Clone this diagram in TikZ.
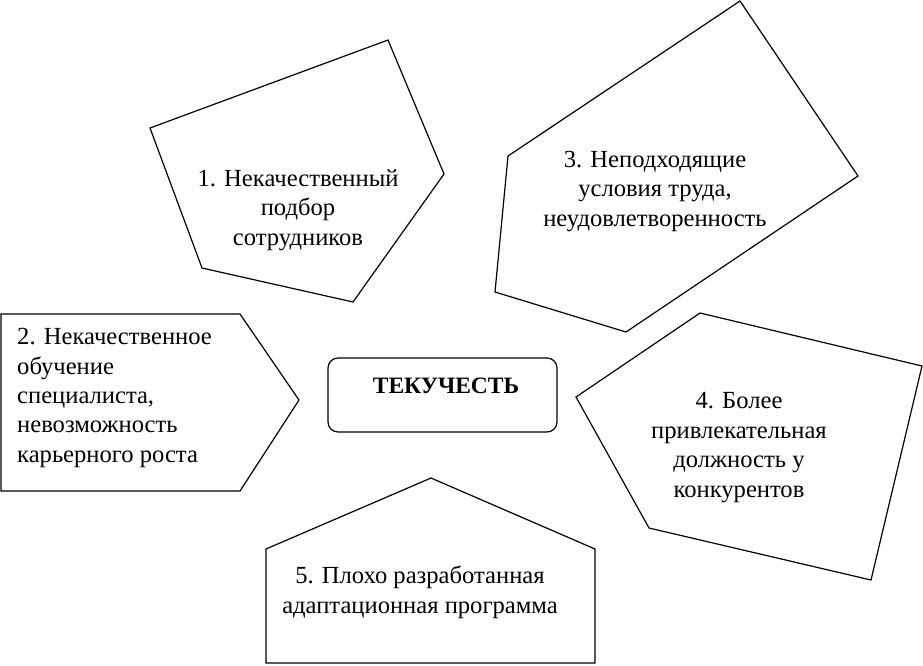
\documentclass[tikz,border=0pt]{standalone}
\usepackage{fontspec}
\setmainfont{Liberation Serif}
\begin{document}
\begin{tikzpicture}[x=1pt,y=-1pt,
  shape line/.style={draw=black, line width=1.2pt, line join=miter},
  lbl/.style={font=\fontsize{24.6}{29.5}\selectfont, align=center, inner sep=0pt, anchor=base},
  lblleft/.style={font=\fontsize{24.6}{29.3}\selectfont, align=left, inner sep=0pt, anchor=base west}]
\useasboundingbox (0,0) rectangle (923,665);
% polygon 1
\draw[shape line] (150,128) -- (388,40) -- (444,174) -- (353,302) -- (202,268) -- cycle;
% polygon 3
\draw[shape line] (740,1) -- (858,176) -- (626,332) -- (495,292) -- (508,156) -- cycle;
% polygon 2
\draw[shape line] (1,314) -- (240,314) -- (299,400) -- (240,491) -- (1,491) -- cycle;
% polygon 4
\draw[shape line] (700,313) -- (922,366) -- (871,580) -- (649,528) -- (576,397) -- cycle;
% polygon 5
\draw[shape line] (431,478) -- (595,549) -- (595,663) -- (266,663) -- (266,549) -- cycle;
% central box
\draw[shape line, rounded corners=10pt] (328,358) rectangle (557,432);
\node[lbl, font=\fontsize{23.5}{29.5}\selectfont\bfseries] (center) at (446,393) {ТЕКУЧЕСТЬ};
\node[lbl] (t1) at (298,245) {1. Некачественный\\подбор\\сотрудников};
\node[lbl] (t3) at (655,226) {3. Неподходящие\\условия труда,\\неудовлетворенность};
\node[lblleft] (t2) at (17,462) {2. Некачественное\\обучение\\специалиста,\\невозможность\\карьерного роста};
\node[lbl] (t4) at (739,497) {4. Более\\привлекательная\\должность у\\конкурентов};
\node[lbl] (t5) at (420,613) {5. Плохо разработанная\\адаптационная программа};
\end{tikzpicture}
\end{document}
